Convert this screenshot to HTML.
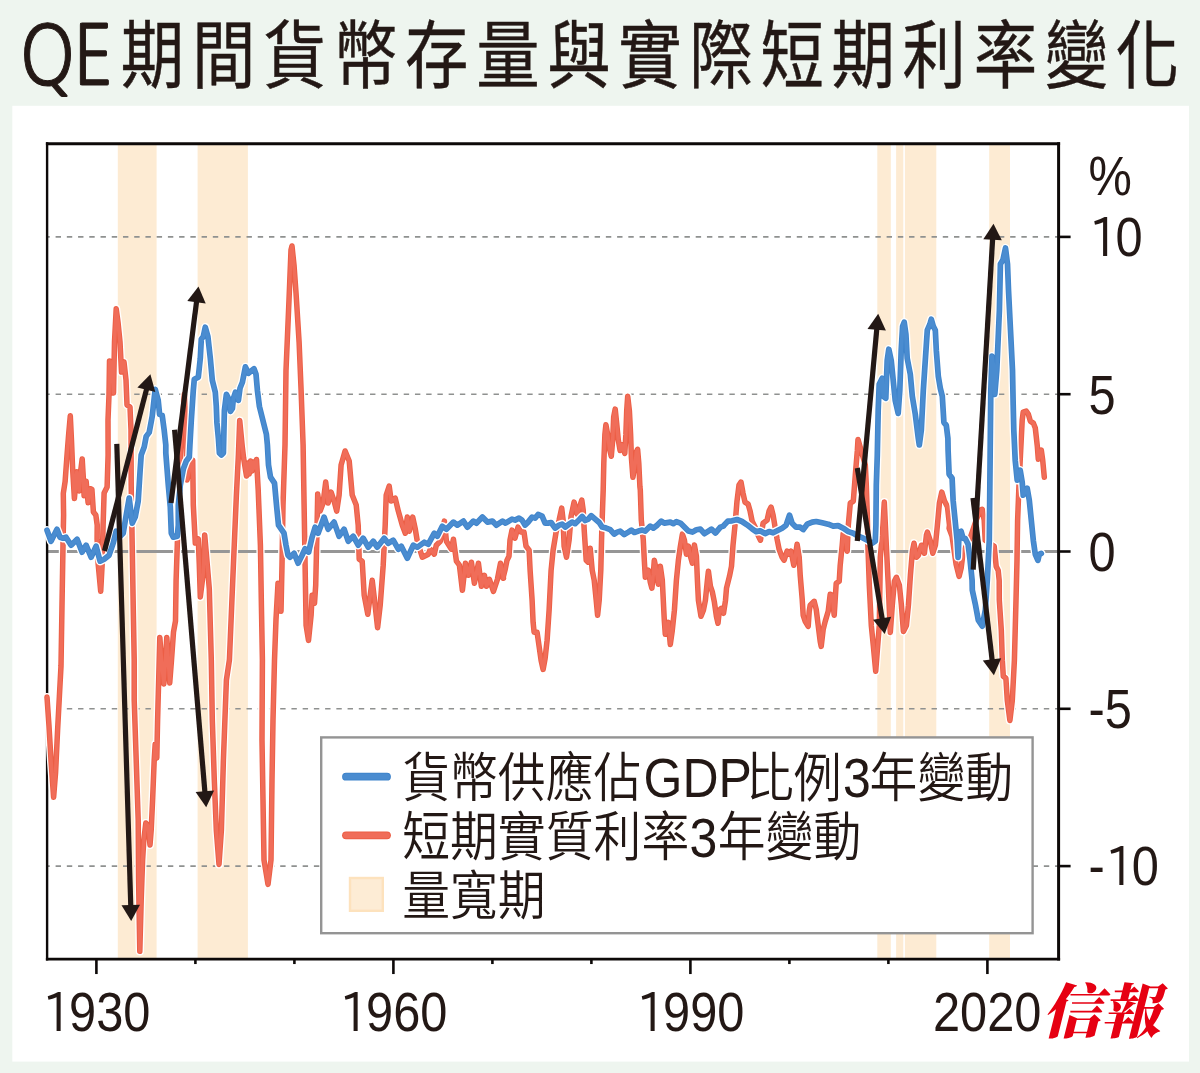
<!DOCTYPE html>
<html lang="zh-Hant">
<head>
<meta charset="utf-8">
<title>QE期間貨幣存量與實際短期利率變化</title>
<style>
html,body{margin:0;padding:0;background:#eef5ef;}
body{width:1200px;height:1073px;overflow:hidden;position:relative;font-family:"Liberation Sans","Noto Sans CJK TC",sans-serif;}
svg{position:absolute;left:0;top:0;display:block;}
.t{font-family:"Liberation Sans","Noto Sans CJK TC",sans-serif;fill:#231815;}
.cj{font-family:"Noto Sans CJK TC","Liberation Sans",sans-serif;fill:#231815;}
.nq{font-family:"NanumGothic","Liberation Sans",sans-serif;fill:#231815;}
.one{font-family:"IPAPGothic","NanumGothic","Liberation Sans",sans-serif;fill:#231815;}
.logo{font-family:"Noto Serif CJK SC","Noto Sans CJK TC",serif;font-weight:900;fill:#e60012;}
</style>
</head>
<body>
<svg width="1200" height="1073" viewBox="0 0 1200 1073">
<rect x="0" y="0" width="1200" height="1073" fill="#eef5ef"/>
<rect x="12.3" y="105.8" width="1176.7" height="955.8" fill="#ffffff"/>

<text class="cj" font-size="74" stroke="#231815" stroke-width="0.45" transform="scale(0.857,1)"><tspan class="nq" font-size="82" stroke-width="1.1" text-anchor="start" x="23.0 85.4" y="85.0">QE</tspan><tspan text-anchor="middle" x="177.9 260.9 343.8 426.7 509.7 592.6 675.5 758.4 841.4 924.3 1007.2 1090.2 1173.1 1256.0 1338.9" y="81.5">期間貨幣存量與實際短期利率變化</tspan></text>
<rect x="117.8" y="143.7" width="38.8" height="815.3499999999999" fill="#fdebd3"/>
<rect x="197.6" y="143.7" width="50.3" height="815.3499999999999" fill="#fdebd3"/>
<rect x="877.3" y="143.7" width="13.5" height="815.3499999999999" fill="#fdebd3"/>
<rect x="896.1" y="143.7" width="7.2" height="815.3499999999999" fill="#fdebd3"/>
<rect x="904.9" y="143.7" width="31.4" height="815.3499999999999" fill="#fdebd3"/>
<rect x="989.2" y="143.7" width="20.8" height="815.3499999999999" fill="#fdebd3"/>
<line x1="47.1" y1="236.9" x2="1058.6" y2="236.9" stroke="#8f9190" stroke-width="1.6" stroke-dasharray="5.4 5.83" stroke-dashoffset="-8.5"/>
<line x1="47.1" y1="394.2" x2="1058.6" y2="394.2" stroke="#8f9190" stroke-width="1.6" stroke-dasharray="5.4 5.83" stroke-dashoffset="-8.5"/>
<line x1="47.1" y1="708.8" x2="1058.6" y2="708.8" stroke="#8f9190" stroke-width="1.6" stroke-dasharray="5.4 5.83" stroke-dashoffset="-8.5"/>
<line x1="47.1" y1="866.1" x2="1058.6" y2="866.1" stroke="#8f9190" stroke-width="1.6" stroke-dasharray="5.4 5.83" stroke-dashoffset="-8.5"/>
<line x1="47.1" y1="551.5" x2="1058.6" y2="551.5" stroke="#969696" stroke-width="3.0"/>
<line x1="47.1" y1="142.25" x2="47.1" y2="960.4699999999999" stroke="#0d0908" stroke-width="2.4"/>
<line x1="1058.6" y1="142.25" x2="1058.6" y2="960.4699999999999" stroke="#0d0908" stroke-width="3.0"/>
<line x1="45.9" y1="143.7" x2="1060.1" y2="143.7" stroke="#0d0908" stroke-width="2.9"/>
<line x1="45.9" y1="959.05" x2="1060.1" y2="959.05" stroke="#0d0908" stroke-width="2.85"/>
<line x1="96.4" y1="959.05" x2="96.4" y2="974.05" stroke="#0d0908" stroke-width="2.6"/>
<line x1="195.4" y1="959.05" x2="195.4" y2="964.05" stroke="#0d0908" stroke-width="2.6"/>
<line x1="294.4" y1="959.05" x2="294.4" y2="964.05" stroke="#0d0908" stroke-width="2.6"/>
<line x1="393.4" y1="959.05" x2="393.4" y2="974.05" stroke="#0d0908" stroke-width="2.6"/>
<line x1="492.4" y1="959.05" x2="492.4" y2="964.05" stroke="#0d0908" stroke-width="2.6"/>
<line x1="591.4" y1="959.05" x2="591.4" y2="964.05" stroke="#0d0908" stroke-width="2.6"/>
<line x1="690.4" y1="959.05" x2="690.4" y2="974.05" stroke="#0d0908" stroke-width="2.6"/>
<line x1="789.4" y1="959.05" x2="789.4" y2="964.05" stroke="#0d0908" stroke-width="2.6"/>
<line x1="888.4" y1="959.05" x2="888.4" y2="964.05" stroke="#0d0908" stroke-width="2.6"/>
<line x1="987.4" y1="959.05" x2="987.4" y2="974.05" stroke="#0d0908" stroke-width="2.6"/>
<line x1="1058.6" y1="236.9" x2="1070.6" y2="236.9" stroke="#0d0908" stroke-width="2.6"/>
<line x1="1058.6" y1="394.2" x2="1070.6" y2="394.2" stroke="#0d0908" stroke-width="2.6"/>
<line x1="1058.6" y1="551.5" x2="1070.6" y2="551.5" stroke="#0d0908" stroke-width="2.6"/>
<line x1="1058.6" y1="708.8" x2="1070.6" y2="708.8" stroke="#0d0908" stroke-width="2.6"/>
<line x1="1058.6" y1="866.1" x2="1070.6" y2="866.1" stroke="#0d0908" stroke-width="2.6"/>
<g fill="none" stroke-linejoin="round" stroke-linecap="round">
<path d="M47.0,697.1 L49.0,726.1 L51.0,760.2 L53.6,797.3 L55.6,772.2 L57.6,730.1 L59.4,696.1 L61.0,666.0 L62.0,605.3 L63.0,545.2 L63.6,515.1 L63.3,493.3 L65.1,481.7 L66.8,458.3 L68.6,435.0 L70.3,415.8 L71.5,440.8 L72.7,470.0 L74.4,498.6 L76.8,471.8 L79.1,491.0 L80.8,470.0 L82.2,458.9 L83.2,475.8 L84.1,495.7 L86.1,481.1 L88.1,502.7 L90.2,488.7 L91.9,489.3 L93.4,512.0 L95.8,514.9 L97.2,525.0 L97.1,539.2 L98.1,563.2 L100.7,591.3 L102.1,565.2 L103.1,525.2 L104.1,493.1 L107.1,487.1 L108.1,455.0 L108.0,420.0 L109.0,395.0 L109.5,361.0 L111.5,362.0 L113.5,393.0 L114.5,342.0 L116.2,308.8 L118.0,322.0 L120.0,342.0 L121.5,372.0 L124.0,362.0 L126.0,380.0 L127.0,405.0 L130.0,407.0 L131.0,430.0 L131.2,485.0 L132.2,545.0 L133.2,605.0 L134.2,660.0 L134.2,700.0 L136.2,760.0 L138.2,820.0 L138.6,880.0 L139.8,951.3 L141.2,900.0 L142.6,860.0 L143.8,840.0 L145.8,823.0 L148.2,826.0 L150.0,845.0 L151.2,830.0 L152.6,800.0 L154.2,760.0 L155.2,744.0 L156.8,758.0 L157.6,720.0 L158.0,705.0 L158.6,683.0 L159.8,637.5 L161.5,660.0 L163.8,684.0 L165.5,660.0 L166.8,637.5 L168.3,660.0 L169.7,683.0 L171.5,660.0 L173.5,632.0 L175.5,621.0 L176.1,580.0 L177.3,545.0 L178.3,505.0 L181.0,440.0 L184.4,394.0 L186.0,440.0 L187.0,480.0 L189.2,471.0 L192.7,460.0 L193.3,505.0 L195.3,543.0 L198.3,539.0 L199.3,565.0 L200.3,597.0 L203.3,573.0 L204.7,535.0 L207.3,565.0 L209.3,589.0 L210.3,625.0 L211.3,660.0 L212.3,720.0 L214.3,780.0 L216.3,830.0 L219.0,864.4 L221.4,830.0 L223.4,760.0 L226.4,680.0 L229.4,660.0 L233.4,565.0 L236.4,495.0 L238.4,455.0 L239.7,420.5 L242.2,446.0 L243.6,458.0 L245.2,468.0 L246.5,476.0 L247.8,463.0 L249.2,474.0 L250.6,461.0 L252.0,471.0 L253.5,462.0 L255.0,468.0 L256.5,459.5 L258.2,490.0 L260.4,545.0 L261.4,605.0 L262.4,660.0 L262.0,740.0 L263.0,800.0 L264.0,860.0 L268.0,884.4 L271.0,860.0 L272.0,780.0 L273.0,720.0 L274.5,660.0 L276.0,619.4 L278.0,583.3 L281.0,611.3 L282.0,565.2 L283.0,505.1 L285.0,445.0 L286.0,370.3 L289.0,300.1 L291.0,250.0 L292.0,246.0 L294.1,266.1 L296.1,294.1 L299.1,342.2 L301.1,390.3 L303.1,445.0 L304.1,505.1 L305.1,565.2 L306.1,625.4 L308.5,640.4 L311.1,615.3 L312.1,595.3 L314.5,603.3 L315.7,585.3 L317.1,525.2 L317.7,494.1 L320.1,511.1 L323.1,503.1 L325.7,482.1 L328.1,503.1 L331.1,492.1 L334.1,501.1 L336.7,511.1 L339.1,495.1 L341.1,465.0 L345.1,451.0 L349.2,461.0 L352.2,495.1 L356.2,505.1 L358.2,525.2 L359.2,559.2 L362.2,561.2 L364.2,595.3 L367.8,614.3 L370.2,595.3 L372.2,580.3 L374.2,597.3 L377.6,627.8 L380.2,605.3 L383.2,565.2 L385.2,525.2 L386.2,495.1 L389.2,486.1 L391.2,501.1 L395.2,498.1 L398.3,511.1 L402.3,525.2 L405.3,533.2 L407.3,517.1 L409.3,531.2 L412.7,517.1 L415.3,529.2 L417.3,541.2 L422.3,557.2 L428.3,554.2 L430.3,549.2 L434.3,554.2 L436.3,545.2 L440.3,541.2 L444.4,521.1 L446.4,541.2 L451.4,549.2 L453.4,539.2 L456.4,561.2 L459.4,565.2 L462.4,590.3 L465.4,563.2 L468.4,575.3 L471.4,562.2 L474.4,583.3 L478.4,563.2 L481.4,586.3 L484.4,575.3 L486.4,586.3 L489.4,579.3 L493.4,591.3 L497.4,579.3 L500.5,563.2 L503.5,578.3 L503.0,578.2 L505.0,570.2 L507.0,560.2 L509.0,556.2 L510.0,540.1 L512.0,530.1 L515.0,538.1 L518.0,527.1 L521.0,532.1 L524.0,532.1 L526.0,546.1 L529.1,550.2 L530.1,570.2 L532.1,600.3 L533.1,622.3 L534.1,632.3 L537.1,632.3 L539.1,646.4 L541.1,660.4 L543.1,669.4 L545.1,658.4 L547.1,640.3 L549.1,610.3 L551.1,570.2 L553.1,550.2 L556.1,532.1 L559.1,520.1 L561.7,508.1 L563.1,520.1 L564.1,546.1 L566.5,557.2 L569.1,540.1 L571.1,516.1 L574.1,502.1 L577.1,514.1 L579.2,508.1 L581.8,500.1 L583.2,510.1 L584.2,530.1 L586.2,560.2 L588.2,562.2 L590.2,548.2 L592.2,570.2 L594.2,580.2 L596.2,600.3 L597.6,615.3 L599.2,600.3 L600.8,570.2 L601.8,530.1 L603.2,490.0 L603.8,463.3 L604.9,434.2 L605.9,424.8 L607.8,435.3 L609.6,449.3 L611.3,456.3 L612.7,440.0 L613.7,416.7 L615.2,409.1 L616.6,422.5 L618.3,440.0 L620.1,450.5 L621.8,444.7 L624.8,453.4 L625.9,434.2 L626.7,410.8 L627.7,396.2 L629.4,410.8 L630.6,434.2 L631.4,457.5 L632.9,477.3 L635.2,463.3 L636.4,451.7 L637.6,449.3 L638.8,463.3 L639.9,486.7 L640.3,490.0 L641.3,520.1 L643.3,540.1 L644.3,560.2 L645.3,577.2 L648.3,570.2 L650.3,582.2 L651.9,588.2 L653.3,574.2 L654.3,560.2 L656.3,570.2 L658.3,584.2 L660.3,566.2 L662.3,580.2 L663.3,600.3 L664.3,620.3 L665.3,634.3 L668.3,622.3 L670.3,644.4 L672.3,630.3 L674.4,610.3 L676.4,580.2 L678.4,560.2 L680.4,546.1 L682.4,534.1 L684.4,540.1 L686.4,554.2 L688.4,546.1 L690.4,556.2 L692.4,563.2 L694.4,545.1 L696.4,556.2 L697.4,580.2 L698.4,600.3 L701.0,616.3 L703.4,610.3 L705.4,600.3 L707.4,580.2 L708.4,571.2 L710.4,586.2 L712.4,592.2 L714.4,602.3 L716.4,616.3 L718.0,623.3 L719.4,610.3 L721.4,608.3 L723.5,613.3 L725.5,600.3 L726.5,588.2 L729.5,576.2 L731.5,566.2 L733.0,545.2 L735.0,525.2 L737.0,501.1 L739.0,485.1 L741.0,482.1 L743.0,493.1 L745.0,502.1 L748.1,504.1 L750.1,511.1 L752.1,521.1 L755.1,527.2 L758.1,535.2 L760.5,540.2 L763.1,523.2 L767.1,520.1 L769.1,511.1 L771.1,507.1 L773.1,515.1 L775.1,527.2 L777.1,539.2 L779.1,549.2 L782.1,557.2 L784.1,560.2 L787.1,551.2 L789.1,554.2 L791.1,551.2 L793.8,565.2 L795.8,553.2 L797.1,544.2 L799.2,557.2 L800.2,575.3 L802.2,599.3 L803.2,615.3 L805.2,621.4 L808.2,626.4 L809.2,611.3 L810.2,605.3 L814.2,601.3 L816.2,609.3 L818.2,625.4 L820.2,641.4 L821.2,646.4 L823.2,629.4 L825.2,621.4 L828.2,611.3 L830.2,594.3 L832.2,595.3 L834.2,615.3 L836.2,583.3 L839.2,581.3 L840.2,565.2 L842.2,545.2 L843.2,533.2 L845.2,535.2 L847.2,551.2 L848.3,525.2 L850.3,503.1 L853.3,501.1 L855.3,475.1 L857.3,451.0 L858.0,439.4 L865.3,465.0 L866.3,485.1 L867.3,515.1 L867.9,545.2 L869.3,585.3 L871.3,625.4 L873.3,645.4 L875.7,671.3 L879.3,625.4 L879.9,585.3 L880.3,557.2 L882.3,535.2 L884.3,502.1 L886.3,545.2 L888.3,585.3 L890.3,632.4 L892.3,605.3 L894.4,581.3 L896.4,577.3 L899.4,585.3 L901.4,605.3 L903.4,631.4 L906.4,625.4 L908.4,605.3 L910.4,575.3 L912.4,551.2 L914.0,543.2 L916.4,557.2 L918.4,555.2 L921.4,545.2 L924.4,553.2 L926.4,535.2 L927.4,532.2 L930.4,541.2 L932.8,553.2 L935.4,545.2 L937.4,525.2 L939.4,503.1 L941.8,492.1 L944.5,501.1 L947.5,507.1 L949.5,525.2 L949.1,528.3 L952.1,536.3 L954.1,550.3 L956.1,564.4 L959.1,576.4 L961.1,568.4 L963.1,552.3 L970.1,538.3 L976.1,520.3 L980.2,510.3 L982.2,509.3 L984.2,520.3 L985.2,540.3 L994.2,546.3 L996.2,566.4 L998.2,570.4 L999.2,580.4 L999.3,600.1 L1001.3,630.2 L1002.3,660.2 L1003.3,676.3 L1005.9,678.3 L1007.3,700.3 L1009.9,720.4 L1012.3,700.3 L1014.4,660.2 L1016.0,600.1 L1017.0,560.0 L1017.6,520.3 L1018.4,500.2 L1019.2,480.2 L1021.2,440.1 L1022.2,420.1 L1023.2,412.1 L1026.2,411.1 L1028.3,414.1 L1030.3,421.1 L1033.3,423.1 L1035.3,428.1 L1037.3,446.1 L1038.3,459.2 L1041.3,450.1 L1042.7,460.2 L1044.3,477.2" stroke="#fff" stroke-width="8.2"/>
<path d="M47.0,697.1 L49.0,726.1 L51.0,760.2 L53.6,797.3 L55.6,772.2 L57.6,730.1 L59.4,696.1 L61.0,666.0 L62.0,605.3 L63.0,545.2 L63.6,515.1 L63.3,493.3 L65.1,481.7 L66.8,458.3 L68.6,435.0 L70.3,415.8 L71.5,440.8 L72.7,470.0 L74.4,498.6 L76.8,471.8 L79.1,491.0 L80.8,470.0 L82.2,458.9 L83.2,475.8 L84.1,495.7 L86.1,481.1 L88.1,502.7 L90.2,488.7 L91.9,489.3 L93.4,512.0 L95.8,514.9 L97.2,525.0 L97.1,539.2 L98.1,563.2 L100.7,591.3 L102.1,565.2 L103.1,525.2 L104.1,493.1 L107.1,487.1 L108.1,455.0 L108.0,420.0 L109.0,395.0 L109.5,361.0 L111.5,362.0 L113.5,393.0 L114.5,342.0 L116.2,308.8 L118.0,322.0 L120.0,342.0 L121.5,372.0 L124.0,362.0 L126.0,380.0 L127.0,405.0 L130.0,407.0 L131.0,430.0 L131.2,485.0 L132.2,545.0 L133.2,605.0 L134.2,660.0 L134.2,700.0 L136.2,760.0 L138.2,820.0 L138.6,880.0 L139.8,951.3 L141.2,900.0 L142.6,860.0 L143.8,840.0 L145.8,823.0 L148.2,826.0 L150.0,845.0 L151.2,830.0 L152.6,800.0 L154.2,760.0 L155.2,744.0 L156.8,758.0 L157.6,720.0 L158.0,705.0 L158.6,683.0 L159.8,637.5 L161.5,660.0 L163.8,684.0 L165.5,660.0 L166.8,637.5 L168.3,660.0 L169.7,683.0 L171.5,660.0 L173.5,632.0 L175.5,621.0 L176.1,580.0 L177.3,545.0 L178.3,505.0 L181.0,440.0 L184.4,394.0 L186.0,440.0 L187.0,480.0 L189.2,471.0 L192.7,460.0 L193.3,505.0 L195.3,543.0 L198.3,539.0 L199.3,565.0 L200.3,597.0 L203.3,573.0 L204.7,535.0 L207.3,565.0 L209.3,589.0 L210.3,625.0 L211.3,660.0 L212.3,720.0 L214.3,780.0 L216.3,830.0 L219.0,864.4 L221.4,830.0 L223.4,760.0 L226.4,680.0 L229.4,660.0 L233.4,565.0 L236.4,495.0 L238.4,455.0 L239.7,420.5 L242.2,446.0 L243.6,458.0 L245.2,468.0 L246.5,476.0 L247.8,463.0 L249.2,474.0 L250.6,461.0 L252.0,471.0 L253.5,462.0 L255.0,468.0 L256.5,459.5 L258.2,490.0 L260.4,545.0 L261.4,605.0 L262.4,660.0 L262.0,740.0 L263.0,800.0 L264.0,860.0 L268.0,884.4 L271.0,860.0 L272.0,780.0 L273.0,720.0 L274.5,660.0 L276.0,619.4 L278.0,583.3 L281.0,611.3 L282.0,565.2 L283.0,505.1 L285.0,445.0 L286.0,370.3 L289.0,300.1 L291.0,250.0 L292.0,246.0 L294.1,266.1 L296.1,294.1 L299.1,342.2 L301.1,390.3 L303.1,445.0 L304.1,505.1 L305.1,565.2 L306.1,625.4 L308.5,640.4 L311.1,615.3 L312.1,595.3 L314.5,603.3 L315.7,585.3 L317.1,525.2 L317.7,494.1 L320.1,511.1 L323.1,503.1 L325.7,482.1 L328.1,503.1 L331.1,492.1 L334.1,501.1 L336.7,511.1 L339.1,495.1 L341.1,465.0 L345.1,451.0 L349.2,461.0 L352.2,495.1 L356.2,505.1 L358.2,525.2 L359.2,559.2 L362.2,561.2 L364.2,595.3 L367.8,614.3 L370.2,595.3 L372.2,580.3 L374.2,597.3 L377.6,627.8 L380.2,605.3 L383.2,565.2 L385.2,525.2 L386.2,495.1 L389.2,486.1 L391.2,501.1 L395.2,498.1 L398.3,511.1 L402.3,525.2 L405.3,533.2 L407.3,517.1 L409.3,531.2 L412.7,517.1 L415.3,529.2 L417.3,541.2 L422.3,557.2 L428.3,554.2 L430.3,549.2 L434.3,554.2 L436.3,545.2 L440.3,541.2 L444.4,521.1 L446.4,541.2 L451.4,549.2 L453.4,539.2 L456.4,561.2 L459.4,565.2 L462.4,590.3 L465.4,563.2 L468.4,575.3 L471.4,562.2 L474.4,583.3 L478.4,563.2 L481.4,586.3 L484.4,575.3 L486.4,586.3 L489.4,579.3 L493.4,591.3 L497.4,579.3 L500.5,563.2 L503.5,578.3 L503.0,578.2 L505.0,570.2 L507.0,560.2 L509.0,556.2 L510.0,540.1 L512.0,530.1 L515.0,538.1 L518.0,527.1 L521.0,532.1 L524.0,532.1 L526.0,546.1 L529.1,550.2 L530.1,570.2 L532.1,600.3 L533.1,622.3 L534.1,632.3 L537.1,632.3 L539.1,646.4 L541.1,660.4 L543.1,669.4 L545.1,658.4 L547.1,640.3 L549.1,610.3 L551.1,570.2 L553.1,550.2 L556.1,532.1 L559.1,520.1 L561.7,508.1 L563.1,520.1 L564.1,546.1 L566.5,557.2 L569.1,540.1 L571.1,516.1 L574.1,502.1 L577.1,514.1 L579.2,508.1 L581.8,500.1 L583.2,510.1 L584.2,530.1 L586.2,560.2 L588.2,562.2 L590.2,548.2 L592.2,570.2 L594.2,580.2 L596.2,600.3 L597.6,615.3 L599.2,600.3 L600.8,570.2 L601.8,530.1 L603.2,490.0 L603.8,463.3 L604.9,434.2 L605.9,424.8 L607.8,435.3 L609.6,449.3 L611.3,456.3 L612.7,440.0 L613.7,416.7 L615.2,409.1 L616.6,422.5 L618.3,440.0 L620.1,450.5 L621.8,444.7 L624.8,453.4 L625.9,434.2 L626.7,410.8 L627.7,396.2 L629.4,410.8 L630.6,434.2 L631.4,457.5 L632.9,477.3 L635.2,463.3 L636.4,451.7 L637.6,449.3 L638.8,463.3 L639.9,486.7 L640.3,490.0 L641.3,520.1 L643.3,540.1 L644.3,560.2 L645.3,577.2 L648.3,570.2 L650.3,582.2 L651.9,588.2 L653.3,574.2 L654.3,560.2 L656.3,570.2 L658.3,584.2 L660.3,566.2 L662.3,580.2 L663.3,600.3 L664.3,620.3 L665.3,634.3 L668.3,622.3 L670.3,644.4 L672.3,630.3 L674.4,610.3 L676.4,580.2 L678.4,560.2 L680.4,546.1 L682.4,534.1 L684.4,540.1 L686.4,554.2 L688.4,546.1 L690.4,556.2 L692.4,563.2 L694.4,545.1 L696.4,556.2 L697.4,580.2 L698.4,600.3 L701.0,616.3 L703.4,610.3 L705.4,600.3 L707.4,580.2 L708.4,571.2 L710.4,586.2 L712.4,592.2 L714.4,602.3 L716.4,616.3 L718.0,623.3 L719.4,610.3 L721.4,608.3 L723.5,613.3 L725.5,600.3 L726.5,588.2 L729.5,576.2 L731.5,566.2 L733.0,545.2 L735.0,525.2 L737.0,501.1 L739.0,485.1 L741.0,482.1 L743.0,493.1 L745.0,502.1 L748.1,504.1 L750.1,511.1 L752.1,521.1 L755.1,527.2 L758.1,535.2 L760.5,540.2 L763.1,523.2 L767.1,520.1 L769.1,511.1 L771.1,507.1 L773.1,515.1 L775.1,527.2 L777.1,539.2 L779.1,549.2 L782.1,557.2 L784.1,560.2 L787.1,551.2 L789.1,554.2 L791.1,551.2 L793.8,565.2 L795.8,553.2 L797.1,544.2 L799.2,557.2 L800.2,575.3 L802.2,599.3 L803.2,615.3 L805.2,621.4 L808.2,626.4 L809.2,611.3 L810.2,605.3 L814.2,601.3 L816.2,609.3 L818.2,625.4 L820.2,641.4 L821.2,646.4 L823.2,629.4 L825.2,621.4 L828.2,611.3 L830.2,594.3 L832.2,595.3 L834.2,615.3 L836.2,583.3 L839.2,581.3 L840.2,565.2 L842.2,545.2 L843.2,533.2 L845.2,535.2 L847.2,551.2 L848.3,525.2 L850.3,503.1 L853.3,501.1 L855.3,475.1 L857.3,451.0 L858.0,439.4 L865.3,465.0 L866.3,485.1 L867.3,515.1 L867.9,545.2 L869.3,585.3 L871.3,625.4 L873.3,645.4 L875.7,671.3 L879.3,625.4 L879.9,585.3 L880.3,557.2 L882.3,535.2 L884.3,502.1 L886.3,545.2 L888.3,585.3 L890.3,632.4 L892.3,605.3 L894.4,581.3 L896.4,577.3 L899.4,585.3 L901.4,605.3 L903.4,631.4 L906.4,625.4 L908.4,605.3 L910.4,575.3 L912.4,551.2 L914.0,543.2 L916.4,557.2 L918.4,555.2 L921.4,545.2 L924.4,553.2 L926.4,535.2 L927.4,532.2 L930.4,541.2 L932.8,553.2 L935.4,545.2 L937.4,525.2 L939.4,503.1 L941.8,492.1 L944.5,501.1 L947.5,507.1 L949.5,525.2 L949.1,528.3 L952.1,536.3 L954.1,550.3 L956.1,564.4 L959.1,576.4 L961.1,568.4 L963.1,552.3 L970.1,538.3 L976.1,520.3 L980.2,510.3 L982.2,509.3 L984.2,520.3 L985.2,540.3 L994.2,546.3 L996.2,566.4 L998.2,570.4 L999.2,580.4 L999.3,600.1 L1001.3,630.2 L1002.3,660.2 L1003.3,676.3 L1005.9,678.3 L1007.3,700.3 L1009.9,720.4 L1012.3,700.3 L1014.4,660.2 L1016.0,600.1 L1017.0,560.0 L1017.6,520.3 L1018.4,500.2 L1019.2,480.2 L1021.2,440.1 L1022.2,420.1 L1023.2,412.1 L1026.2,411.1 L1028.3,414.1 L1030.3,421.1 L1033.3,423.1 L1035.3,428.1 L1037.3,446.1 L1038.3,459.2 L1041.3,450.1 L1042.7,460.2 L1044.3,477.2" stroke="#ec5e45" stroke-width="5.5"/>
<path d="M47.0,697.1 L49.0,726.1 L51.0,760.2 L53.6,797.3 L55.6,772.2 L57.6,730.1 L59.4,696.1 L61.0,666.0 L62.0,605.3 L63.0,545.2 L63.6,515.1 L63.3,493.3 L65.1,481.7 L66.8,458.3 L68.6,435.0 L70.3,415.8 L71.5,440.8 L72.7,470.0 L74.4,498.6 L76.8,471.8 L79.1,491.0 L80.8,470.0 L82.2,458.9 L83.2,475.8 L84.1,495.7 L86.1,481.1 L88.1,502.7 L90.2,488.7 L91.9,489.3 L93.4,512.0 L95.8,514.9 L97.2,525.0 L97.1,539.2 L98.1,563.2 L100.7,591.3 L102.1,565.2 L103.1,525.2 L104.1,493.1 L107.1,487.1 L108.1,455.0 L108.0,420.0 L109.0,395.0 L109.5,361.0 L111.5,362.0 L113.5,393.0 L114.5,342.0 L116.2,308.8 L118.0,322.0 L120.0,342.0 L121.5,372.0 L124.0,362.0 L126.0,380.0 L127.0,405.0 L130.0,407.0 L131.0,430.0 L131.2,485.0 L132.2,545.0 L133.2,605.0 L134.2,660.0 L134.2,700.0 L136.2,760.0 L138.2,820.0 L138.6,880.0 L139.8,951.3 L141.2,900.0 L142.6,860.0 L143.8,840.0 L145.8,823.0 L148.2,826.0 L150.0,845.0 L151.2,830.0 L152.6,800.0 L154.2,760.0 L155.2,744.0 L156.8,758.0 L157.6,720.0 L158.0,705.0 L158.6,683.0 L159.8,637.5 L161.5,660.0 L163.8,684.0 L165.5,660.0 L166.8,637.5 L168.3,660.0 L169.7,683.0 L171.5,660.0 L173.5,632.0 L175.5,621.0 L176.1,580.0 L177.3,545.0 L178.3,505.0 L181.0,440.0 L184.4,394.0 L186.0,440.0 L187.0,480.0 L189.2,471.0 L192.7,460.0 L193.3,505.0 L195.3,543.0 L198.3,539.0 L199.3,565.0 L200.3,597.0 L203.3,573.0 L204.7,535.0 L207.3,565.0 L209.3,589.0 L210.3,625.0 L211.3,660.0 L212.3,720.0 L214.3,780.0 L216.3,830.0 L219.0,864.4 L221.4,830.0 L223.4,760.0 L226.4,680.0 L229.4,660.0 L233.4,565.0 L236.4,495.0 L238.4,455.0 L239.7,420.5 L242.2,446.0 L243.6,458.0 L245.2,468.0 L246.5,476.0 L247.8,463.0 L249.2,474.0 L250.6,461.0 L252.0,471.0 L253.5,462.0 L255.0,468.0 L256.5,459.5 L258.2,490.0 L260.4,545.0 L261.4,605.0 L262.4,660.0 L262.0,740.0 L263.0,800.0 L264.0,860.0 L268.0,884.4 L271.0,860.0 L272.0,780.0 L273.0,720.0 L274.5,660.0 L276.0,619.4 L278.0,583.3 L281.0,611.3 L282.0,565.2 L283.0,505.1 L285.0,445.0 L286.0,370.3 L289.0,300.1 L291.0,250.0 L292.0,246.0 L294.1,266.1 L296.1,294.1 L299.1,342.2 L301.1,390.3 L303.1,445.0 L304.1,505.1 L305.1,565.2 L306.1,625.4 L308.5,640.4 L311.1,615.3 L312.1,595.3 L314.5,603.3 L315.7,585.3 L317.1,525.2 L317.7,494.1 L320.1,511.1 L323.1,503.1 L325.7,482.1 L328.1,503.1 L331.1,492.1 L334.1,501.1 L336.7,511.1 L339.1,495.1 L341.1,465.0 L345.1,451.0 L349.2,461.0 L352.2,495.1 L356.2,505.1 L358.2,525.2 L359.2,559.2 L362.2,561.2 L364.2,595.3 L367.8,614.3 L370.2,595.3 L372.2,580.3 L374.2,597.3 L377.6,627.8 L380.2,605.3 L383.2,565.2 L385.2,525.2 L386.2,495.1 L389.2,486.1 L391.2,501.1 L395.2,498.1 L398.3,511.1 L402.3,525.2 L405.3,533.2 L407.3,517.1 L409.3,531.2 L412.7,517.1 L415.3,529.2 L417.3,541.2 L422.3,557.2 L428.3,554.2 L430.3,549.2 L434.3,554.2 L436.3,545.2 L440.3,541.2 L444.4,521.1 L446.4,541.2 L451.4,549.2 L453.4,539.2 L456.4,561.2 L459.4,565.2 L462.4,590.3 L465.4,563.2 L468.4,575.3 L471.4,562.2 L474.4,583.3 L478.4,563.2 L481.4,586.3 L484.4,575.3 L486.4,586.3 L489.4,579.3 L493.4,591.3 L497.4,579.3 L500.5,563.2 L503.5,578.3 L503.0,578.2 L505.0,570.2 L507.0,560.2 L509.0,556.2 L510.0,540.1 L512.0,530.1 L515.0,538.1 L518.0,527.1 L521.0,532.1 L524.0,532.1 L526.0,546.1 L529.1,550.2 L530.1,570.2 L532.1,600.3 L533.1,622.3 L534.1,632.3 L537.1,632.3 L539.1,646.4 L541.1,660.4 L543.1,669.4 L545.1,658.4 L547.1,640.3 L549.1,610.3 L551.1,570.2 L553.1,550.2 L556.1,532.1 L559.1,520.1 L561.7,508.1 L563.1,520.1 L564.1,546.1 L566.5,557.2 L569.1,540.1 L571.1,516.1 L574.1,502.1 L577.1,514.1 L579.2,508.1 L581.8,500.1 L583.2,510.1 L584.2,530.1 L586.2,560.2 L588.2,562.2 L590.2,548.2 L592.2,570.2 L594.2,580.2 L596.2,600.3 L597.6,615.3 L599.2,600.3 L600.8,570.2 L601.8,530.1 L603.2,490.0 L603.8,463.3 L604.9,434.2 L605.9,424.8 L607.8,435.3 L609.6,449.3 L611.3,456.3 L612.7,440.0 L613.7,416.7 L615.2,409.1 L616.6,422.5 L618.3,440.0 L620.1,450.5 L621.8,444.7 L624.8,453.4 L625.9,434.2 L626.7,410.8 L627.7,396.2 L629.4,410.8 L630.6,434.2 L631.4,457.5 L632.9,477.3 L635.2,463.3 L636.4,451.7 L637.6,449.3 L638.8,463.3 L639.9,486.7 L640.3,490.0 L641.3,520.1 L643.3,540.1 L644.3,560.2 L645.3,577.2 L648.3,570.2 L650.3,582.2 L651.9,588.2 L653.3,574.2 L654.3,560.2 L656.3,570.2 L658.3,584.2 L660.3,566.2 L662.3,580.2 L663.3,600.3 L664.3,620.3 L665.3,634.3 L668.3,622.3 L670.3,644.4 L672.3,630.3 L674.4,610.3 L676.4,580.2 L678.4,560.2 L680.4,546.1 L682.4,534.1 L684.4,540.1 L686.4,554.2 L688.4,546.1 L690.4,556.2 L692.4,563.2 L694.4,545.1 L696.4,556.2 L697.4,580.2 L698.4,600.3 L701.0,616.3 L703.4,610.3 L705.4,600.3 L707.4,580.2 L708.4,571.2 L710.4,586.2 L712.4,592.2 L714.4,602.3 L716.4,616.3 L718.0,623.3 L719.4,610.3 L721.4,608.3 L723.5,613.3 L725.5,600.3 L726.5,588.2 L729.5,576.2 L731.5,566.2 L733.0,545.2 L735.0,525.2 L737.0,501.1 L739.0,485.1 L741.0,482.1 L743.0,493.1 L745.0,502.1 L748.1,504.1 L750.1,511.1 L752.1,521.1 L755.1,527.2 L758.1,535.2 L760.5,540.2 L763.1,523.2 L767.1,520.1 L769.1,511.1 L771.1,507.1 L773.1,515.1 L775.1,527.2 L777.1,539.2 L779.1,549.2 L782.1,557.2 L784.1,560.2 L787.1,551.2 L789.1,554.2 L791.1,551.2 L793.8,565.2 L795.8,553.2 L797.1,544.2 L799.2,557.2 L800.2,575.3 L802.2,599.3 L803.2,615.3 L805.2,621.4 L808.2,626.4 L809.2,611.3 L810.2,605.3 L814.2,601.3 L816.2,609.3 L818.2,625.4 L820.2,641.4 L821.2,646.4 L823.2,629.4 L825.2,621.4 L828.2,611.3 L830.2,594.3 L832.2,595.3 L834.2,615.3 L836.2,583.3 L839.2,581.3 L840.2,565.2 L842.2,545.2 L843.2,533.2 L845.2,535.2 L847.2,551.2 L848.3,525.2 L850.3,503.1 L853.3,501.1 L855.3,475.1 L857.3,451.0 L858.0,439.4 L865.3,465.0 L866.3,485.1 L867.3,515.1 L867.9,545.2 L869.3,585.3 L871.3,625.4 L873.3,645.4 L875.7,671.3 L879.3,625.4 L879.9,585.3 L880.3,557.2 L882.3,535.2 L884.3,502.1 L886.3,545.2 L888.3,585.3 L890.3,632.4 L892.3,605.3 L894.4,581.3 L896.4,577.3 L899.4,585.3 L901.4,605.3 L903.4,631.4 L906.4,625.4 L908.4,605.3 L910.4,575.3 L912.4,551.2 L914.0,543.2 L916.4,557.2 L918.4,555.2 L921.4,545.2 L924.4,553.2 L926.4,535.2 L927.4,532.2 L930.4,541.2 L932.8,553.2 L935.4,545.2 L937.4,525.2 L939.4,503.1 L941.8,492.1 L944.5,501.1 L947.5,507.1 L949.5,525.2 L949.1,528.3 L952.1,536.3 L954.1,550.3 L956.1,564.4 L959.1,576.4 L961.1,568.4 L963.1,552.3 L970.1,538.3 L976.1,520.3 L980.2,510.3 L982.2,509.3 L984.2,520.3 L985.2,540.3 L994.2,546.3 L996.2,566.4 L998.2,570.4 L999.2,580.4 L999.3,600.1 L1001.3,630.2 L1002.3,660.2 L1003.3,676.3 L1005.9,678.3 L1007.3,700.3 L1009.9,720.4 L1012.3,700.3 L1014.4,660.2 L1016.0,600.1 L1017.0,560.0 L1017.6,520.3 L1018.4,500.2 L1019.2,480.2 L1021.2,440.1 L1022.2,420.1 L1023.2,412.1 L1026.2,411.1 L1028.3,414.1 L1030.3,421.1 L1033.3,423.1 L1035.3,428.1 L1037.3,446.1 L1038.3,459.2 L1041.3,450.1 L1042.7,460.2 L1044.3,477.2" stroke="#f06d59" stroke-width="3.6"/>
<path d="M47.0,530.2 L51.0,541.2 L57.0,529.2 L60.0,537.2 L63.0,538.2 L66.0,537.2 L71.1,545.2 L77.1,539.2 L82.1,552.2 L86.1,545.2 L91.1,557.2 L96.1,546.2 L100.1,561.2 L104.1,559.2 L109.1,555.2 L113.2,543.2 L116.2,531.2 L120.2,536.2 L123.2,533.2 L126.2,515.1 L129.2,498.1 L132.2,523.2 L135.2,517.1 L138.2,501.1 L140.2,469.1 L141.2,455.0 L144.2,447.0 L146.2,436.4 L149.2,432.4 L152.2,416.4 L155.2,389.3 L158.2,400.3 L159.6,414.4 L162.2,415.4 L164.2,430.4 L165.8,445.0 L165.8,453.0 L168.3,485.1 L170.3,507.1 L171.3,533.2 L173.3,537.2 L177.3,536.2 L178.3,525.2 L178.3,505.1 L180.3,485.1 L183.3,469.1 L186.3,461.0 L189.3,457.0 L189.9,445.0 L191.3,420.4 L193.3,390.3 L194.3,379.3 L198.3,377.3 L200.3,358.3 L201.3,339.2 L203.3,336.6 L205.3,327.2 L207.9,336.6 L210.3,358.3 L212.3,380.3 L215.3,392.3 L216.3,406.4 L216.9,422.4 L218.4,438.4 L219.4,453.0 L221.4,455.0 L223.4,453.0 L224.4,410.4 L226.4,394.3 L228.4,398.3 L230.4,411.4 L232.4,408.4 L233.4,398.3 L235.4,392.3 L238.4,400.3 L240.0,388.3 L242.4,382.3 L245.4,366.9 L248.4,373.3 L254.0,368.7 L256.0,374.3 L257.4,390.3 L259.4,406.4 L262.4,418.4 L266.4,434.4 L267.4,445.0 L268.5,465.0 L270.5,477.1 L274.5,483.1 L276.5,505.1 L278.5,525.2 L284.0,533.2 L286.0,545.2 L288.0,555.2 L290.0,557.2 L294.1,553.2 L298.1,563.2 L302.1,555.2 L305.1,548.8 L308.7,552.0 L312.1,537.2 L315.1,527.2 L318.1,533.2 L321.1,525.2 L324.1,517.1 L328.1,529.2 L334.1,522.1 L339.1,536.2 L344.1,529.2 L348.2,541.2 L353.2,536.2 L358.2,545.2 L363.2,538.2 L368.2,547.2 L373.2,541.2 L377.2,547.2 L384.2,538.2 L388.2,543.2 L393.2,540.2 L398.3,549.2 L401.3,546.2 L407.3,558.2 L413.3,545.2 L417.3,547.2 L424.3,542.2 L428.3,544.2 L434.3,533.2 L437.3,536.2 L442.3,526.2 L446.4,529.2 L453.4,522.1 L457.4,525.2 L463.4,521.1 L467.4,527.2 L473.4,521.1 L476.4,523.2 L482.4,517.1 L487.4,522.1 L492.4,521.1 L496.4,525.2 L502.5,521.1 L505.5,523.2 L512.0,519.1 L515.0,520.1 L519.0,518.1 L522.0,520.1 L525.0,525.1 L528.1,522.1 L532.1,517.1 L535.1,518.1 L538.1,514.5 L542.1,516.1 L545.1,523.1 L548.1,523.1 L551.1,522.5 L555.1,528.1 L559.1,525.1 L562.1,524.1 L565.1,527.1 L569.1,524.1 L572.1,522.1 L575.1,523.7 L579.2,519.7 L582.2,516.5 L585.2,520.5 L588.2,519.1 L591.2,515.7 L595.2,519.1 L599.2,522.5 L602.2,527.1 L606.2,528.1 L610.2,529.7 L614.2,534.1 L617.2,532.1 L620.2,531.1 L624.2,534.5 L628.3,532.1 L631.3,530.1 L634.3,532.5 L638.3,531.1 L642.3,530.1 L645.3,531.1 L650.3,526.1 L653.3,528.1 L657.3,525.1 L661.3,521.1 L664.3,523.1 L670.3,522.1 L673.4,523.7 L676.4,521.7 L680.4,523.1 L684.4,527.1 L688.4,531.1 L692.4,532.1 L696.4,529.7 L700.4,529.1 L704.4,533.7 L708.4,531.1 L711.4,529.1 L715.4,533.1 L720.4,527.1 L723.5,526.1 L724.0,525.2 L728.0,521.1 L732.0,520.8 L737.0,519.5 L742.0,521.5 L747.0,524.8 L752.1,528.8 L756.1,531.6 L760.1,530.8 L765.1,533.6 L769.1,531.6 L773.1,532.8 L778.1,530.2 L782.1,528.2 L786.1,525.2 L789.5,515.1 L792.1,523.2 L796.1,527.2 L800.2,527.2 L803.2,529.6 L807.2,524.2 L812.2,522.1 L816.2,521.5 L822.2,522.8 L828.2,524.2 L833.2,526.2 L838.2,525.6 L843.2,528.2 L848.3,531.6 L853.3,533.2 L858.3,536.2 L863.3,538.2 L868.3,540.8 L872.3,543.2 L875.3,541.2 L875.9,525.2 L876.3,485.1 L877.3,455.0 L878.2,410.4 L879.2,384.3 L882.2,378.3 L883.2,396.3 L885.8,398.3 L887.2,360.3 L888.8,349.2 L891.2,360.3 L893.2,380.3 L895.2,400.3 L898.2,413.4 L899.8,390.3 L901.2,350.2 L902.6,326.2 L904.2,322.2 L905.9,334.2 L907.2,358.3 L910.3,374.3 L912.3,396.3 L915.3,414.4 L918.3,438.4 L919.3,445.0 L921.3,430.4 L923.3,390.3 L925.3,360.3 L927.3,330.2 L929.9,324.2 L931.3,319.2 L933.3,326.2 L935.3,330.2 L936.3,350.2 L938.3,376.3 L940.3,388.3 L942.3,396.3 L943.9,422.4 L946.3,425.4 L947.9,438.4 L948.1,450.1 L949.1,474.2 L952.1,478.2 L953.1,500.2 L955.1,520.3 L957.1,540.3 L958.1,557.4 L959.1,532.3 L961.1,531.3 L963.1,538.3 L965.1,538.3 L968.1,544.3 L970.1,560.4 L972.1,580.4 L972.3,590.1 L975.3,604.1 L978.3,620.2 L982.3,626.2 L985.3,610.1 L987.3,580.1 L989.3,540.0 L990.8,390.3 L992.0,356.2 L994.0,370.3 L994.8,394.3 L996.8,370.3 L999.4,310.2 L1000.4,264.1 L1002.9,260.1 L1005.5,248.0 L1007.5,264.1 L1008.5,290.1 L1010.5,330.2 L1012.5,370.3 L1013.2,405.0 L1013.8,430.1 L1015.2,460.2 L1017.2,480.2 L1020.2,470.2 L1022.2,482.2 L1023.2,495.2 L1027.2,488.2 L1029.3,500.2 L1031.3,520.3 L1033.3,540.3 L1035.3,554.4 L1037.9,560.4 L1039.3,554.4 L1041.3,553.4" stroke="#fff" stroke-width="8.4"/>
<path d="M47.0,530.2 L51.0,541.2 L57.0,529.2 L60.0,537.2 L63.0,538.2 L66.0,537.2 L71.1,545.2 L77.1,539.2 L82.1,552.2 L86.1,545.2 L91.1,557.2 L96.1,546.2 L100.1,561.2 L104.1,559.2 L109.1,555.2 L113.2,543.2 L116.2,531.2 L120.2,536.2 L123.2,533.2 L126.2,515.1 L129.2,498.1 L132.2,523.2 L135.2,517.1 L138.2,501.1 L140.2,469.1 L141.2,455.0 L144.2,447.0 L146.2,436.4 L149.2,432.4 L152.2,416.4 L155.2,389.3 L158.2,400.3 L159.6,414.4 L162.2,415.4 L164.2,430.4 L165.8,445.0 L165.8,453.0 L168.3,485.1 L170.3,507.1 L171.3,533.2 L173.3,537.2 L177.3,536.2 L178.3,525.2 L178.3,505.1 L180.3,485.1 L183.3,469.1 L186.3,461.0 L189.3,457.0 L189.9,445.0 L191.3,420.4 L193.3,390.3 L194.3,379.3 L198.3,377.3 L200.3,358.3 L201.3,339.2 L203.3,336.6 L205.3,327.2 L207.9,336.6 L210.3,358.3 L212.3,380.3 L215.3,392.3 L216.3,406.4 L216.9,422.4 L218.4,438.4 L219.4,453.0 L221.4,455.0 L223.4,453.0 L224.4,410.4 L226.4,394.3 L228.4,398.3 L230.4,411.4 L232.4,408.4 L233.4,398.3 L235.4,392.3 L238.4,400.3 L240.0,388.3 L242.4,382.3 L245.4,366.9 L248.4,373.3 L254.0,368.7 L256.0,374.3 L257.4,390.3 L259.4,406.4 L262.4,418.4 L266.4,434.4 L267.4,445.0 L268.5,465.0 L270.5,477.1 L274.5,483.1 L276.5,505.1 L278.5,525.2 L284.0,533.2 L286.0,545.2 L288.0,555.2 L290.0,557.2 L294.1,553.2 L298.1,563.2 L302.1,555.2 L305.1,548.8 L308.7,552.0 L312.1,537.2 L315.1,527.2 L318.1,533.2 L321.1,525.2 L324.1,517.1 L328.1,529.2 L334.1,522.1 L339.1,536.2 L344.1,529.2 L348.2,541.2 L353.2,536.2 L358.2,545.2 L363.2,538.2 L368.2,547.2 L373.2,541.2 L377.2,547.2 L384.2,538.2 L388.2,543.2 L393.2,540.2 L398.3,549.2 L401.3,546.2 L407.3,558.2 L413.3,545.2 L417.3,547.2 L424.3,542.2 L428.3,544.2 L434.3,533.2 L437.3,536.2 L442.3,526.2 L446.4,529.2 L453.4,522.1 L457.4,525.2 L463.4,521.1 L467.4,527.2 L473.4,521.1 L476.4,523.2 L482.4,517.1 L487.4,522.1 L492.4,521.1 L496.4,525.2 L502.5,521.1 L505.5,523.2 L512.0,519.1 L515.0,520.1 L519.0,518.1 L522.0,520.1 L525.0,525.1 L528.1,522.1 L532.1,517.1 L535.1,518.1 L538.1,514.5 L542.1,516.1 L545.1,523.1 L548.1,523.1 L551.1,522.5 L555.1,528.1 L559.1,525.1 L562.1,524.1 L565.1,527.1 L569.1,524.1 L572.1,522.1 L575.1,523.7 L579.2,519.7 L582.2,516.5 L585.2,520.5 L588.2,519.1 L591.2,515.7 L595.2,519.1 L599.2,522.5 L602.2,527.1 L606.2,528.1 L610.2,529.7 L614.2,534.1 L617.2,532.1 L620.2,531.1 L624.2,534.5 L628.3,532.1 L631.3,530.1 L634.3,532.5 L638.3,531.1 L642.3,530.1 L645.3,531.1 L650.3,526.1 L653.3,528.1 L657.3,525.1 L661.3,521.1 L664.3,523.1 L670.3,522.1 L673.4,523.7 L676.4,521.7 L680.4,523.1 L684.4,527.1 L688.4,531.1 L692.4,532.1 L696.4,529.7 L700.4,529.1 L704.4,533.7 L708.4,531.1 L711.4,529.1 L715.4,533.1 L720.4,527.1 L723.5,526.1 L724.0,525.2 L728.0,521.1 L732.0,520.8 L737.0,519.5 L742.0,521.5 L747.0,524.8 L752.1,528.8 L756.1,531.6 L760.1,530.8 L765.1,533.6 L769.1,531.6 L773.1,532.8 L778.1,530.2 L782.1,528.2 L786.1,525.2 L789.5,515.1 L792.1,523.2 L796.1,527.2 L800.2,527.2 L803.2,529.6 L807.2,524.2 L812.2,522.1 L816.2,521.5 L822.2,522.8 L828.2,524.2 L833.2,526.2 L838.2,525.6 L843.2,528.2 L848.3,531.6 L853.3,533.2 L858.3,536.2 L863.3,538.2 L868.3,540.8 L872.3,543.2 L875.3,541.2 L875.9,525.2 L876.3,485.1 L877.3,455.0 L878.2,410.4 L879.2,384.3 L882.2,378.3 L883.2,396.3 L885.8,398.3 L887.2,360.3 L888.8,349.2 L891.2,360.3 L893.2,380.3 L895.2,400.3 L898.2,413.4 L899.8,390.3 L901.2,350.2 L902.6,326.2 L904.2,322.2 L905.9,334.2 L907.2,358.3 L910.3,374.3 L912.3,396.3 L915.3,414.4 L918.3,438.4 L919.3,445.0 L921.3,430.4 L923.3,390.3 L925.3,360.3 L927.3,330.2 L929.9,324.2 L931.3,319.2 L933.3,326.2 L935.3,330.2 L936.3,350.2 L938.3,376.3 L940.3,388.3 L942.3,396.3 L943.9,422.4 L946.3,425.4 L947.9,438.4 L948.1,450.1 L949.1,474.2 L952.1,478.2 L953.1,500.2 L955.1,520.3 L957.1,540.3 L958.1,557.4 L959.1,532.3 L961.1,531.3 L963.1,538.3 L965.1,538.3 L968.1,544.3 L970.1,560.4 L972.1,580.4 L972.3,590.1 L975.3,604.1 L978.3,620.2 L982.3,626.2 L985.3,610.1 L987.3,580.1 L989.3,540.0 L990.8,390.3 L992.0,356.2 L994.0,370.3 L994.8,394.3 L996.8,370.3 L999.4,310.2 L1000.4,264.1 L1002.9,260.1 L1005.5,248.0 L1007.5,264.1 L1008.5,290.1 L1010.5,330.2 L1012.5,370.3 L1013.2,405.0 L1013.8,430.1 L1015.2,460.2 L1017.2,480.2 L1020.2,470.2 L1022.2,482.2 L1023.2,495.2 L1027.2,488.2 L1029.3,500.2 L1031.3,520.3 L1033.3,540.3 L1035.3,554.4 L1037.9,560.4 L1039.3,554.4 L1041.3,553.4" stroke="#3f84cb" stroke-width="5.7"/>
<path d="M47.0,530.2 L51.0,541.2 L57.0,529.2 L60.0,537.2 L63.0,538.2 L66.0,537.2 L71.1,545.2 L77.1,539.2 L82.1,552.2 L86.1,545.2 L91.1,557.2 L96.1,546.2 L100.1,561.2 L104.1,559.2 L109.1,555.2 L113.2,543.2 L116.2,531.2 L120.2,536.2 L123.2,533.2 L126.2,515.1 L129.2,498.1 L132.2,523.2 L135.2,517.1 L138.2,501.1 L140.2,469.1 L141.2,455.0 L144.2,447.0 L146.2,436.4 L149.2,432.4 L152.2,416.4 L155.2,389.3 L158.2,400.3 L159.6,414.4 L162.2,415.4 L164.2,430.4 L165.8,445.0 L165.8,453.0 L168.3,485.1 L170.3,507.1 L171.3,533.2 L173.3,537.2 L177.3,536.2 L178.3,525.2 L178.3,505.1 L180.3,485.1 L183.3,469.1 L186.3,461.0 L189.3,457.0 L189.9,445.0 L191.3,420.4 L193.3,390.3 L194.3,379.3 L198.3,377.3 L200.3,358.3 L201.3,339.2 L203.3,336.6 L205.3,327.2 L207.9,336.6 L210.3,358.3 L212.3,380.3 L215.3,392.3 L216.3,406.4 L216.9,422.4 L218.4,438.4 L219.4,453.0 L221.4,455.0 L223.4,453.0 L224.4,410.4 L226.4,394.3 L228.4,398.3 L230.4,411.4 L232.4,408.4 L233.4,398.3 L235.4,392.3 L238.4,400.3 L240.0,388.3 L242.4,382.3 L245.4,366.9 L248.4,373.3 L254.0,368.7 L256.0,374.3 L257.4,390.3 L259.4,406.4 L262.4,418.4 L266.4,434.4 L267.4,445.0 L268.5,465.0 L270.5,477.1 L274.5,483.1 L276.5,505.1 L278.5,525.2 L284.0,533.2 L286.0,545.2 L288.0,555.2 L290.0,557.2 L294.1,553.2 L298.1,563.2 L302.1,555.2 L305.1,548.8 L308.7,552.0 L312.1,537.2 L315.1,527.2 L318.1,533.2 L321.1,525.2 L324.1,517.1 L328.1,529.2 L334.1,522.1 L339.1,536.2 L344.1,529.2 L348.2,541.2 L353.2,536.2 L358.2,545.2 L363.2,538.2 L368.2,547.2 L373.2,541.2 L377.2,547.2 L384.2,538.2 L388.2,543.2 L393.2,540.2 L398.3,549.2 L401.3,546.2 L407.3,558.2 L413.3,545.2 L417.3,547.2 L424.3,542.2 L428.3,544.2 L434.3,533.2 L437.3,536.2 L442.3,526.2 L446.4,529.2 L453.4,522.1 L457.4,525.2 L463.4,521.1 L467.4,527.2 L473.4,521.1 L476.4,523.2 L482.4,517.1 L487.4,522.1 L492.4,521.1 L496.4,525.2 L502.5,521.1 L505.5,523.2 L512.0,519.1 L515.0,520.1 L519.0,518.1 L522.0,520.1 L525.0,525.1 L528.1,522.1 L532.1,517.1 L535.1,518.1 L538.1,514.5 L542.1,516.1 L545.1,523.1 L548.1,523.1 L551.1,522.5 L555.1,528.1 L559.1,525.1 L562.1,524.1 L565.1,527.1 L569.1,524.1 L572.1,522.1 L575.1,523.7 L579.2,519.7 L582.2,516.5 L585.2,520.5 L588.2,519.1 L591.2,515.7 L595.2,519.1 L599.2,522.5 L602.2,527.1 L606.2,528.1 L610.2,529.7 L614.2,534.1 L617.2,532.1 L620.2,531.1 L624.2,534.5 L628.3,532.1 L631.3,530.1 L634.3,532.5 L638.3,531.1 L642.3,530.1 L645.3,531.1 L650.3,526.1 L653.3,528.1 L657.3,525.1 L661.3,521.1 L664.3,523.1 L670.3,522.1 L673.4,523.7 L676.4,521.7 L680.4,523.1 L684.4,527.1 L688.4,531.1 L692.4,532.1 L696.4,529.7 L700.4,529.1 L704.4,533.7 L708.4,531.1 L711.4,529.1 L715.4,533.1 L720.4,527.1 L723.5,526.1 L724.0,525.2 L728.0,521.1 L732.0,520.8 L737.0,519.5 L742.0,521.5 L747.0,524.8 L752.1,528.8 L756.1,531.6 L760.1,530.8 L765.1,533.6 L769.1,531.6 L773.1,532.8 L778.1,530.2 L782.1,528.2 L786.1,525.2 L789.5,515.1 L792.1,523.2 L796.1,527.2 L800.2,527.2 L803.2,529.6 L807.2,524.2 L812.2,522.1 L816.2,521.5 L822.2,522.8 L828.2,524.2 L833.2,526.2 L838.2,525.6 L843.2,528.2 L848.3,531.6 L853.3,533.2 L858.3,536.2 L863.3,538.2 L868.3,540.8 L872.3,543.2 L875.3,541.2 L875.9,525.2 L876.3,485.1 L877.3,455.0 L878.2,410.4 L879.2,384.3 L882.2,378.3 L883.2,396.3 L885.8,398.3 L887.2,360.3 L888.8,349.2 L891.2,360.3 L893.2,380.3 L895.2,400.3 L898.2,413.4 L899.8,390.3 L901.2,350.2 L902.6,326.2 L904.2,322.2 L905.9,334.2 L907.2,358.3 L910.3,374.3 L912.3,396.3 L915.3,414.4 L918.3,438.4 L919.3,445.0 L921.3,430.4 L923.3,390.3 L925.3,360.3 L927.3,330.2 L929.9,324.2 L931.3,319.2 L933.3,326.2 L935.3,330.2 L936.3,350.2 L938.3,376.3 L940.3,388.3 L942.3,396.3 L943.9,422.4 L946.3,425.4 L947.9,438.4 L948.1,450.1 L949.1,474.2 L952.1,478.2 L953.1,500.2 L955.1,520.3 L957.1,540.3 L958.1,557.4 L959.1,532.3 L961.1,531.3 L963.1,538.3 L965.1,538.3 L968.1,544.3 L970.1,560.4 L972.1,580.4 L972.3,590.1 L975.3,604.1 L978.3,620.2 L982.3,626.2 L985.3,610.1 L987.3,580.1 L989.3,540.0 L990.8,390.3 L992.0,356.2 L994.0,370.3 L994.8,394.3 L996.8,370.3 L999.4,310.2 L1000.4,264.1 L1002.9,260.1 L1005.5,248.0 L1007.5,264.1 L1008.5,290.1 L1010.5,330.2 L1012.5,370.3 L1013.2,405.0 L1013.8,430.1 L1015.2,460.2 L1017.2,480.2 L1020.2,470.2 L1022.2,482.2 L1023.2,495.2 L1027.2,488.2 L1029.3,500.2 L1031.3,520.3 L1033.3,540.3 L1035.3,554.4 L1037.9,560.4 L1039.3,554.4 L1041.3,553.4" stroke="#4a8cd0" stroke-width="3.8"/>
</g>
<line x1="104.5" y1="551.0" x2="146.9" y2="387.8" stroke="#231815" stroke-width="5.2"/><polygon points="150.4,374.2 155.3,392.0 137.4,387.4" fill="#231815"/>
<line x1="116.8" y1="443.8" x2="130.8" y2="907.0" stroke="#231815" stroke-width="5.2"/><polygon points="131.2,921.0 121.5,905.3 140.0,904.7" fill="#231815"/>
<line x1="171.0" y1="503.0" x2="196.7" y2="300.3" stroke="#231815" stroke-width="5.2"/><polygon points="198.5,286.4 205.7,303.4 187.3,301.1" fill="#231815"/>
<line x1="174.6" y1="429.8" x2="205.0" y2="793.3" stroke="#231815" stroke-width="5.2"/><polygon points="206.2,807.3 195.6,792.1 214.1,790.6" fill="#231815"/>
<line x1="857.3" y1="541.0" x2="876.9" y2="327.7" stroke="#231815" stroke-width="5.2"/><polygon points="878.2,313.8 885.9,330.6 867.5,328.9" fill="#231815"/>
<line x1="857.3" y1="468.0" x2="882.4" y2="620.2" stroke="#231815" stroke-width="5.2"/><polygon points="884.7,634.0 873.0,619.7 891.2,616.7" fill="#231815"/>
<line x1="973.2" y1="569.7" x2="992.7" y2="237.8" stroke="#231815" stroke-width="5.2"/><polygon points="993.5,223.8 1001.8,240.3 983.3,239.2" fill="#231815"/>
<line x1="973.0" y1="498.0" x2="992.3" y2="661.4" stroke="#231815" stroke-width="5.2"/><polygon points="993.9,675.3 982.8,660.5 1001.2,658.3" fill="#231815"/>
<rect x="321.2" y="737.4" width="711.4" height="195.8" fill="#fff" stroke="#949494" stroke-width="2.4"/>
<line x1="346" y1="776.7" x2="387" y2="776.7" stroke="#3f84cb" stroke-width="7.8" stroke-linecap="round"/>
<line x1="346" y1="776.7" x2="387" y2="776.7" stroke="#4a8cd0" stroke-width="5.8" stroke-linecap="round"/>
<line x1="346" y1="835.3" x2="387" y2="835.3" stroke="#ec5e45" stroke-width="7.8" stroke-linecap="round"/>
<line x1="346" y1="835.3" x2="387" y2="835.3" stroke="#f06d59" stroke-width="5.8" stroke-linecap="round"/>
<rect x="350.0" y="878.0" width="32.8" height="32.8" fill="#fdecd5" stroke="#fde2bd" stroke-width="2.4"/>
<text class="cj" font-weight="350" font-size="53.6" transform="scale(0.8927,1)"><tspan x="450.53" y="796.9">貨幣供應佔</tspan><tspan class="t" font-weight="400" font-size="56.0" x="720.94" y="797.3">GDP</tspan><tspan x="835.64" y="796.9">比例</tspan><tspan class="t" font-weight="400" font-size="56.0" x="944.19" y="797.3">3</tspan><tspan x="974.10" y="796.9">年變動</tspan></text>
<text class="cj" font-weight="350" font-size="53.6" transform="scale(0.8927,1)"><tspan x="450.53" y="856.5">短期實質利率</tspan><tspan class="t" font-weight="400" font-size="56.0" x="772.36" y="856.7">3</tspan><tspan x="804.06" y="856.5">年變動</tspan></text>
<text class="cj" font-weight="350" font-size="53.6" transform="scale(0.8927,1)"><tspan x="450.53" y="915.2">量寬期</tspan></text>
<text class="t" font-size="55.4" transform="scale(0.88,1)"><tspan class="one" font-size="52.9" x="48.46" y="1031.9">1</tspan><tspan x="78.50" y="1031.2">930</tspan></text>
<text class="t" font-size="55.4" transform="scale(0.88,1)"><tspan class="one" font-size="52.9" x="385.96" y="1031.9">1</tspan><tspan x="416.00" y="1031.2">960</tspan></text>
<text class="t" font-size="55.4" transform="scale(0.88,1)"><tspan class="one" font-size="52.9" x="723.46" y="1031.9">1</tspan><tspan x="753.50" y="1031.2">990</tspan></text>
<text class="t" font-size="55.4" transform="scale(0.88,1)"><tspan x="1060.19" y="1031.2">2020</tspan></text>
<text class="t" font-size="55.4" transform="scale(0.88,1)"><tspan class="one" font-size="52.9" x="1237.70" y="257.0">1</tspan><tspan x="1267.75" y="256.3">0</tspan></text>
<text class="t" font-size="55.4" transform="scale(0.88,1)"><tspan x="1236.93" y="413.6">5</tspan></text>
<text class="t" font-size="55.4" transform="scale(0.88,1)"><tspan x="1236.93" y="570.9">0</tspan></text>
<text class="t" font-size="55.4" transform="scale(0.88,1)"><tspan x="1236.93" y="728.2">-5</tspan></text>
<text class="t" font-size="55.4" transform="scale(0.88,1)"><tspan x="1236.93" y="885.5">-</tspan><tspan class="one" font-size="52.9" x="1256.15" y="886.2">1</tspan><tspan x="1286.19" y="885.5">0</tspan></text>
<text class="t" font-size="55.4" transform="translate(1088.5,195.0) scale(0.88,1)" x="0" y="0">%</text>
<text class="logo" font-size="59" transform="translate(1042.0,1033.0) skewX(-14) scale(1.01,1.0)" x="0" y="0" letter-spacing="-1">信報</text>
</svg>
</body>
</html>
